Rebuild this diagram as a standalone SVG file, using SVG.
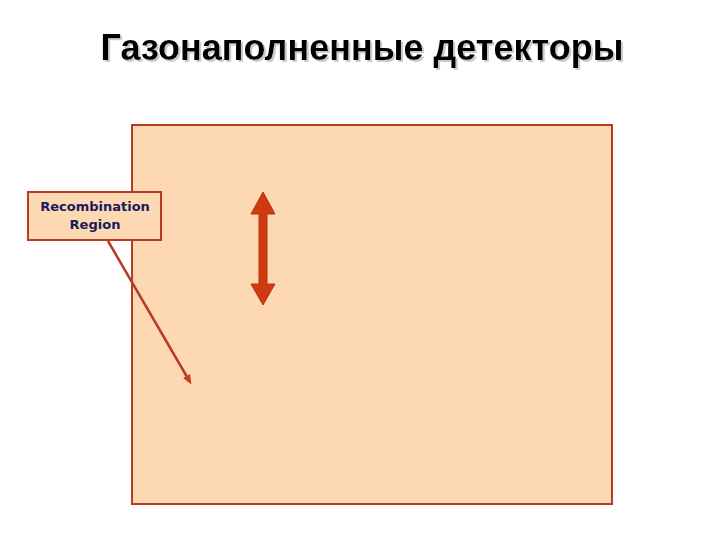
<svg xmlns="http://www.w3.org/2000/svg" width="720" height="540" viewBox="0 0 720 540">
<style>
.title{font-family:"Liberation Sans",Arial,sans-serif;font-weight:bold;font-size:36px;text-anchor:middle}
.lbl{font-family:"DejaVu Sans","Liberation Sans",sans-serif;font-weight:bold;font-size:13px;fill:#1a1a5a;text-anchor:middle}
</style>
<defs>
<marker id="ah" markerWidth="10" markerHeight="10" refX="7" refY="5" orient="auto" markerUnits="userSpaceOnUse" viewBox="0 0 10 10">
<path d="M0,1 L10,5 L0,9 z" fill="#c8401a"/>
</marker>
<filter id="sh" x="-5%" y="-30%" width="110%" height="160%">
<feOffset in="SourceAlpha" dx="2" dy="2" result="o"/>
<feColorMatrix in="o" type="matrix" values="0 0 0 0 0.6  0 0 0 0 0.6  0 0 0 0 0.6  0 0 0 1 0" result="c"/>
<feMerge><feMergeNode in="c"/><feMergeNode in="SourceGraphic"/></feMerge>
</filter>
</defs>
<rect width="720" height="540" fill="#ffffff"/>
<text class="title" x="362" y="60" fill="#000000" filter="url(#sh)">Газонаполненные детекторы</text>
<g id="region">
<rect x="132" y="125" width="480" height="379" fill="#fdd9b3" stroke="#b83a22" stroke-width="2"/>
</g>
<g id="double-arrow">
<polygon points="263,192 275,214 267,214 267,284 275,284 263,305 251,284 259,284 259,214 251,214" fill="#d03a10" stroke="#b8300a" stroke-width="1"/>
</g>
<g id="label">
<rect x="28" y="192" width="133" height="48" fill="#fdd9b3" stroke="#b83a22" stroke-width="2"/>
<text class="lbl" x="95" y="211">Recombination</text>
<text class="lbl" x="95" y="229">Region</text>
</g>
<g id="connectors">
<line x1="108" y1="241" x2="190" y2="382" stroke="#b83a22" stroke-width="2.5" marker-end="url(#ah)"/>
</g>
</svg>
